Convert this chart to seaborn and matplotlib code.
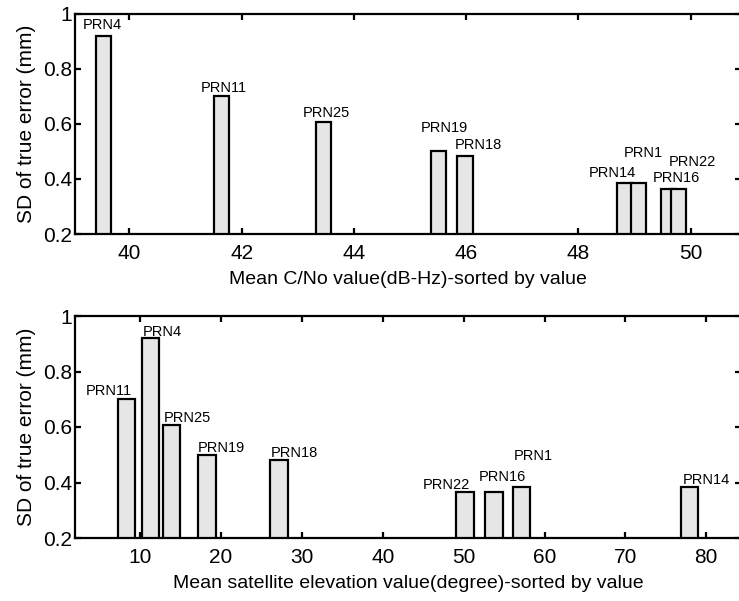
import matplotlib
matplotlib.use("Agg")
import matplotlib.pyplot as plt
import seaborn as sns
import pandas as pd

# Satellites sorted by mean C/N0
prn_cn0 = ["PRN4", "PRN11", "PRN25", "PRN19", "PRN18", "PRN14", "PRN1", "PRN16", "PRN22"]
cn0 = [39.54, 41.64, 43.46, 45.51, 45.98, 48.82, 49.08, 49.61, 49.79]
sd_cn0 = [0.92, 0.70, 0.607, 0.50, 0.482, 0.385, 0.385, 0.365, 0.365]

# Satellites sorted by mean elevation
prn_elev = ["PRN11", "PRN4", "PRN25", "PRN19", "PRN18", "PRN22", "PRN16", "PRN1", "PRN14"]
elev = [8.29, 11.28, 13.87, 18.28, 27.13, 50.18, 53.78, 57.13, 77.92]
sd_elev = [0.70, 0.92, 0.607, 0.50, 0.482, 0.365, 0.365, 0.385, 0.385]

cn0_ticks = [40, 42, 44, 46, 48, 50]
elev_ticks = [10, 20, 30, 40, 50, 60, 70, 80]
sd_ticks = [0.2, 0.4, 0.6, 0.8, 1.0]
sd_ticklabels = ["0.2", "0.4", "0.6", "0.8", "1"]

# label offsets from each bar top, in pixels (dx, dy)
off_cn0 = [(-1.5, 11), (2, 8), (2.5, 9), (5.5, 23), (13.4, 11),
           (-12, 10.5), (4, 30.5), (7.3, 11), (14, 27)]
off_elev = [(-18, 8), (11.4, 6.5), (15.5, 6.8), (14.6, 7), (15.3, 6.4),
            (-18.4, 7), (8.6, 15), (11.6, 31), (16.6, 6.7)]

sns.set_style("white")
plt.rcParams["font.family"] = ["Liberation Sans", "DejaVu Sans"]
plt.rcParams["text.color"] = "black"
plt.rcParams["axes.labelcolor"] = "black"
plt.rcParams["xtick.color"] = "black"
plt.rcParams["ytick.color"] = "black"

fig = plt.figure(figsize=(7.39, 6.01), dpi=100)
W, H = 739.0, 601.0
ax1 = fig.add_axes([75 / W, 1 - 234 / H, (741 - 75) / W, (234 - 13.5) / H])
ax2 = fig.add_axes([75 / W, 1 - 538 / H, (741 - 75) / W, (538 - 316) / H])


def draw(ax, x, y, names, bar_w, offsets, xlim, xticks, xlabel):
    df = pd.DataFrame({"x": x, "y": y})
    sns.barplot(data=df, x="x", y="y", native_scale=True, orient="x",
                errorbar=None, color="#e6e6e6", saturation=1,
                edgecolor="black", linewidth=1.6, ax=ax, zorder=2)
    bars = sorted(ax.patches, key=lambda p: p.get_x() + p.get_width() / 2)
    for p, xc in zip(bars, sorted(x)):
        p.set_x(xc - bar_w / 2)
        p.set_width(bar_w)
    for xc, yc, name, (dx, dy) in zip(x, y, names, offsets):
        ax.annotate(name, (xc, yc), xytext=(dx, dy), textcoords="offset pixels",
                    ha="center", va="center", fontsize=10.5, color="black")
    ax.set_xlim(*xlim)
    ax.set_ylim(0.2, 1.0)
    ax.set_xticks(xticks)
    ax.set_xticklabels([str(t) for t in xticks])
    ax.set_yticks(sd_ticks)
    ax.set_yticklabels(sd_ticklabels)
    ax.set_xlabel(xlabel, fontsize=14, labelpad=6)
    ax.set_ylabel("SD of true error (mm)", fontsize=15, labelpad=5)
    ax.tick_params(axis="both", which="both", direction="in", length=4.5,
                   width=1.6, color="black", labelsize=15, labelcolor="black",
                   top=True, right=True, bottom=True, left=True)
    ax.tick_params(axis="x", pad=7)
    ax.tick_params(axis="y", pad=2)
    for s in ax.spines.values():
        s.set_linewidth(1.6)
        s.set_color("black")
        s.set_visible(True)
    ax.set_facecolor("white")


draw(ax1, cn0, sd_cn0, prn_cn0, 0.27, off_cn0, (39.03, 50.9), cn0_ticks,
     "Mean C/No value(dB-Hz)-sorted by value")
draw(ax2, elev, sd_elev, prn_elev, 2.17, off_elev, (1.93, 84.3), elev_ticks,
     "Mean satellite elevation value(degree)-sorted by value")

fig.savefig("out.png", dpi=100)
